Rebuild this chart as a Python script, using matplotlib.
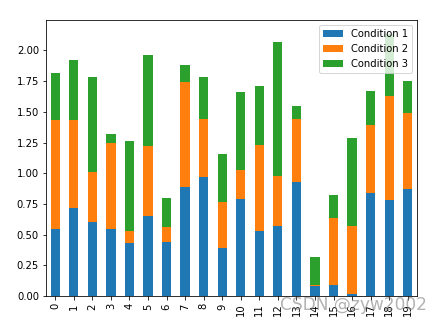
import numpy as np
import matplotlib
matplotlib.use("Agg")
import matplotlib.pyplot as plt

# values (stacked)
labels = [str(i) for i in range(20)]
cond1 = [0.55, 0.72, 0.60, 0.55, 0.43, 0.65, 0.44, 0.89, 0.97, 0.39,
         0.79, 0.53, 0.57, 0.93, 0.08, 0.09, 0.02, 0.84, 0.78, 0.87]
cond2 = [0.88, 0.71, 0.41, 0.70, 0.10, 0.57, 0.12, 0.85, 0.47, 0.38,
         0.24, 0.70, 0.41, 0.51, 0.01, 0.55, 0.55, 0.55, 0.85, 0.62]
cond3 = [0.39, 0.49, 0.77, 0.07, 0.73, 0.74, 0.24, 0.14, 0.34, 0.39,
         0.63, 0.48, 1.09, 0.11, 0.23, 0.18, 0.72, 0.28, 0.50, 0.26]

fig = plt.figure(figsize=(438 / 72, 324 / 72), dpi=72)
ax = fig.add_axes([0.105, 0.086, 0.847, 0.852])

x = np.arange(len(labels))
c1 = np.array(cond1)
c2 = np.array(cond2)
c3 = np.array(cond3)
ax.bar(x, c1, 0.5, color='#1f77b4', label='Condition 1')
ax.bar(x, c2, 0.5, bottom=c1, color='#ff7f0e', label='Condition 2')
ax.bar(x, c3, 0.5, bottom=c1 + c2, color='#2ca02c', label='Condition 3')

ax.set_xticks(x)
ax.set_xticklabels(labels, rotation=90)
ax.set_xlim(-0.5, len(labels) - 0.5)
ax.set_yticks(np.arange(0, 2.01, 0.25))
ax.set_ylim(0, 2.247)
ax.legend(loc='upper right')

# watermark
fig.text(0.975, 0.059, 'CSDN @zyw2002', ha='right', va='center',
         fontsize=17, color='#808080', alpha=0.6)

fig.savefig('out.png', dpi=72)
